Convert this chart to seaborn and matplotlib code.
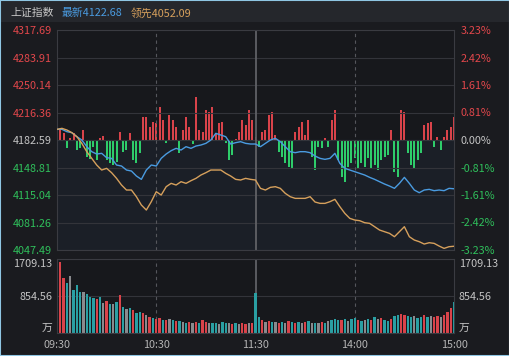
import numpy as np
import matplotlib
matplotlib.use('Agg')
import matplotlib.pyplot as plt
from matplotlib.patches import Rectangle
import seaborn as sns

# Index intraday data (minutes from 09:30, lunch break removed)
prev_close = 4182.59
price_ticks = [4317.69, 4283.91, 4250.14, 4216.36, 4182.59, 4148.81, 4115.04, 4081.26, 4047.49]
pct_ticks = [3.23, 2.42, 1.61, 0.81, 0.00, -0.81, -1.61, -2.42, -3.23]
time_ticks = [0, 60, 120, 180, 240]
time_labels = ['09:30', '10:30', '11:30', '14:00', '15:00']

line_minutes = np.arange(0, 241, 3)
index_price = [4195.68, 4195.68, 4192.81, 4191.58, 4186.67, 4182.58, 4174.39, 4168.24, 4165.38, 4166.20,
               4160.87, 4160.05, 4151.86, 4150.63, 4145.72, 4144.49, 4138.35, 4134.25, 4145.72, 4151.86,
               4150.63, 4160.05, 4165.38, 4169.47, 4172.34, 4170.29, 4174.39, 4172.34, 4175.20, 4176.43,
               4178.48, 4182.58, 4190.77, 4188.72, 4186.67, 4177.66, 4179.30, 4180.53, 4178.48, 4177.66,
               4177.66, 4174.39, 4178.48, 4182.58, 4184.62, 4180.53, 4174.39, 4168.24, 4167.01, 4168.24,
               4168.24, 4167.01, 4162.92, 4160.05, 4158.82, 4160.05, 4166.20, 4153.91, 4147.77, 4145.72,
               4143.67, 4141.63, 4139.58, 4136.71, 4134.25, 4131.39, 4128.52, 4126.06, 4123.20, 4129.34,
               4136.71, 4129.34, 4121.15, 4117.87, 4121.15, 4121.97, 4120.33, 4121.15, 4120.33, 4123.20,
               4122.68]
lead_price = [4195.68, 4196.91, 4194.86, 4191.58, 4186.67, 4178.48, 4168.24, 4160.05, 4151.86, 4145.72,
              4147.77, 4142.44, 4135.48, 4127.29, 4121.15, 4121.15, 4112.96, 4102.72, 4096.58, 4106.82,
              4119.10, 4115.01, 4125.25, 4129.34, 4127.29, 4131.39, 4129.34, 4132.62, 4135.48, 4139.58,
              4142.44, 4145.72, 4145.72, 4145.72, 4141.63, 4138.35, 4134.25, 4133.44, 4135.48, 4134.25,
              4133.44, 4123.20, 4121.15, 4124.43, 4125.25, 4123.20, 4117.06, 4112.96, 4110.91, 4110.91,
              4110.91, 4112.96, 4106.41, 4104.77, 4104.77, 4106.82, 4109.68, 4100.68, 4092.49, 4086.34,
              4084.30, 4083.48, 4081.02, 4080.20, 4076.11, 4072.01, 4069.96, 4067.92, 4063.82, 4069.96,
              4076.11, 4063.82, 4059.73, 4057.68, 4054.81, 4056.45, 4055.63, 4052.35, 4049.49, 4051.54,
              4052.09]

bar_minutes = np.arange(0, 241, 2)
# buy/sell strength bars (own scale, zero at previous close)
strength = [25, 30, 20, -25, 5, 20, -30, -25, 30, -50, -57, -20, -60, 5, 12, -60, -70, -75, -65, 25,
            -35, -30, 20, -60, -70, -40, 70, 70, 40, 55, 50, 100, 60, -8, 75, 60, 40, -40, 30, 70,
            40, -12, 128, 30, 25, 90, 85, 100, 20, 50, 55, -10, -60, -45, 3, 25, 60, 45, 90, 60,
            10, -20, 25, 30, 75, 85, 15, -35, -50, -70, -80, -85, 25, 40, 55, 15, 60, -50, -90,
            -20, -25, 5, -20, 60, 90, -60, -110, -127, -80, -70, -55, -85, -70, -80, -55, -85, -75, -90, -60,
            -50, -45, 30, -95, -110, 90, 85, -40, -75, -85, -60, -40, 45, 50, 55, -20, 10, -30, 10, 30,
            40, 70]
volume = [1709, 1650, 1270, 1150, 1316, 1000, 1110, 950, 940, 900,
          820, 800, 780, 830, 700, 740, 680, 670, 720, 880,
          600, 560, 580, 520, 470, 480, 460, 420, 360, 340,
          320, 340, 310, 300, 330, 290, 270, 280, 250, 240,
          260, 230, 250, 230, 300, 260, 240, 220, 230, 210,
          250, 220, 240, 210, 220, 200, 230, 210, 240, 220,
          924, 380, 300, 260, 280, 250, 260, 240, 250, 230,
          270, 250, 240, 260, 230, 250, 280, 240, 220, 230,
          250, 240, 270, 300, 330, 310, 290, 320, 280, 320,
          350, 300, 280, 310, 330, 290, 380, 320, 350, 300,
          280, 330, 400, 420, 450, 420, 390, 360, 400, 350,
          380, 420, 360, 390, 370, 400, 380, 420, 480, 580,
          716]
vol_colors = ("rrrtgtttgt" "ttrtgrtgtr" "tgtrttrgrt" "rrtrgtrtgt" "rgrtrrgttg" "ttgrtgrrgr"
              "ttrgrtgrtg" "rtrtgrtgtg" "rtgtttrtgt" "trtgtrtgrt" "trttrrttgt" "trtgrrgrrr" "t")
vol_ticks = [0, 854.56, 1709.13]
vol_labels = ['万', '854.56', '1709.13']

bg = '#1a1b1f'
red = '#e2474b'
green = '#2fbf5b'
label_gray = '#c4c4c4'
grid_c = '#33343a'
color_map = {'r': '#d9434a', 't': '#2a9fa3', 'g': '#8a8a8e'}

sns.set_theme(style='dark')
plt.rcParams['font.family'] = ['Noto Sans CJK SC', 'DejaVu Sans']
plt.rcParams['axes.unicode_minus'] = False

fig = plt.figure(figsize=(5.1, 3.56), dpi=100)
fig.patch.set_facecolor(bg)
fig.patches.append(Rectangle((0, 1 - 22 / 356), 1, 22 / 356, transform=fig.transFigure,
                             facecolor='#25272c', edgecolor='none', zorder=0))
fig.patches.append(Rectangle((0, 0), 1, 1, transform=fig.transFigure, fill=False,
                             edgecolor='#8fc6e3', lw=1.5, zorder=5))

fs = 7.8
fig.text(10 / 510, 1 - 13 / 356, '上证指数', color='#c8c8c8', fontsize=fs, va='center')
fig.text(62 / 510, 1 - 13 / 356, '最新4122.68', color='#4a9be0', fontsize=fs, va='center')
fig.text(131 / 510, 1 - 13 / 356, '领先4052.09', color='#d6a05c', fontsize=fs, va='center')

rect_price = [57 / 510, 1 - 250 / 356, 397 / 510, 220 / 356]
rect_vol = [57 / 510, 1 - 333 / 356, 397 / 510, 74 / 356]

# strength bars underneath
ax_bar = fig.add_axes(rect_price)
ax_bar.set_facecolor('#17181c')
ax_bar.set_xlim(0, 240)
ax_bar.set_ylim(-330, 330)
ax_bar.axhspan(-330, 0, color='#1b1f27', zorder=0)
s = np.array(strength)
ax_bar.bar(bar_minutes, s, width=1.2, color=np.where(s >= 0, '#d9434a', '#2ecc6a'),
           linewidth=0, zorder=2)
ax_bar.set_xticks([])
ax_bar.set_yticks([])
for sp in ax_bar.spines.values():
    sp.set_visible(False)

# price lines
ax = fig.add_axes(rect_price)
ax.set_facecolor('none')
for y in price_ticks:
    ax.axhline(y, color=grid_c, lw=0.8, zorder=1)
for t in (60, 180):
    ax.axvline(t, color='#55565c', lw=0.8, ls=(0, (3, 3)), zorder=1)
ax.axvline(120, color='#606166', lw=1.3, zorder=1)
sns.lineplot(x=line_minutes, y=index_price, ax=ax, color='#4a9be0', lw=1.0, zorder=3)
sns.lineplot(x=line_minutes, y=lead_price, ax=ax, color='#d6a05c', lw=1.0, zorder=3)
ax.set_xlim(0, 240)
ax.set_ylim(price_ticks[-1], price_ticks[0])
ax.set_xticks([])
ax.set_yticks(price_ticks)
ax.set_yticklabels([f'{v:.2f}' for v in price_ticks])
ax.tick_params(axis='y', length=0, pad=3.5, labelsize=fs)
ax.grid(False)
for lab, v in zip(ax.get_yticklabels(), price_ticks):
    lab.set_color(red if v > prev_close else (green if v < prev_close else label_gray))
for sp in ax.spines.values():
    sp.set_color('#3a3b41')
    sp.set_linewidth(0.8)

sec = ax.secondary_yaxis('right', functions=(lambda p: (p - prev_close) / prev_close * 100,
                                             lambda q: prev_close * (1 + q / 100)))
sec.set_yticks(pct_ticks)
sec.set_yticklabels([f'{v:.2f}%' for v in pct_ticks])
sec.tick_params(axis='y', length=0, pad=4.5, labelsize=fs)
sec.spines['right'].set_visible(False)
for lab, v in zip(sec.get_yticklabels(), pct_ticks):
    lab.set_color(red if v > 0 else (green if v < 0 else label_gray))

# volume panel
ax_v = fig.add_axes(rect_vol)
ax_v.set_facecolor('#17181c')
ax_v.bar(bar_minutes, volume, width=1.4, color=[color_map[c] for c in vol_colors],
         linewidth=0, zorder=2)
for y in vol_ticks[1:]:
    ax_v.axhline(y, color=grid_c, lw=0.8, zorder=1)
for t in (60, 180):
    ax_v.axvline(t, color='#55565c', lw=0.8, ls=(0, (3, 3)), zorder=1)
ax_v.axvline(120, color='#606166', lw=1.3, zorder=1)
ax_v.set_xlim(0, 240)
ax_v.set_ylim(0, vol_ticks[-1])
ax_v.set_yticks(vol_ticks)
ax_v.set_yticklabels(vol_labels)
ax_v.yaxis.set_tick_params(labelleft=True, labelright=True, length=0, labelsize=fs,
                           labelcolor=label_gray)
ax_v.tick_params(axis='y', pad=3.5)
for tk, lab in zip(ax_v.yaxis.get_major_ticks(), vol_labels):
    for tl in (tk.label1, tk.label2):
        if lab == '万':
            tl.set_va('bottom')
        elif lab == '1709.13':
            tl.set_va('top')
ax_v.set_xticks(time_ticks)
ax_v.set_xticklabels(time_labels)
ax_v.tick_params(axis='x', length=0, pad=5, labelsize=fs, labelcolor='#b4b4b4')
ax_v.grid(False)
for sp in ax_v.spines.values():
    sp.set_color('#3a3b41')
    sp.set_linewidth(0.8)

fig.savefig('out.png', dpi=100, facecolor=bg)
